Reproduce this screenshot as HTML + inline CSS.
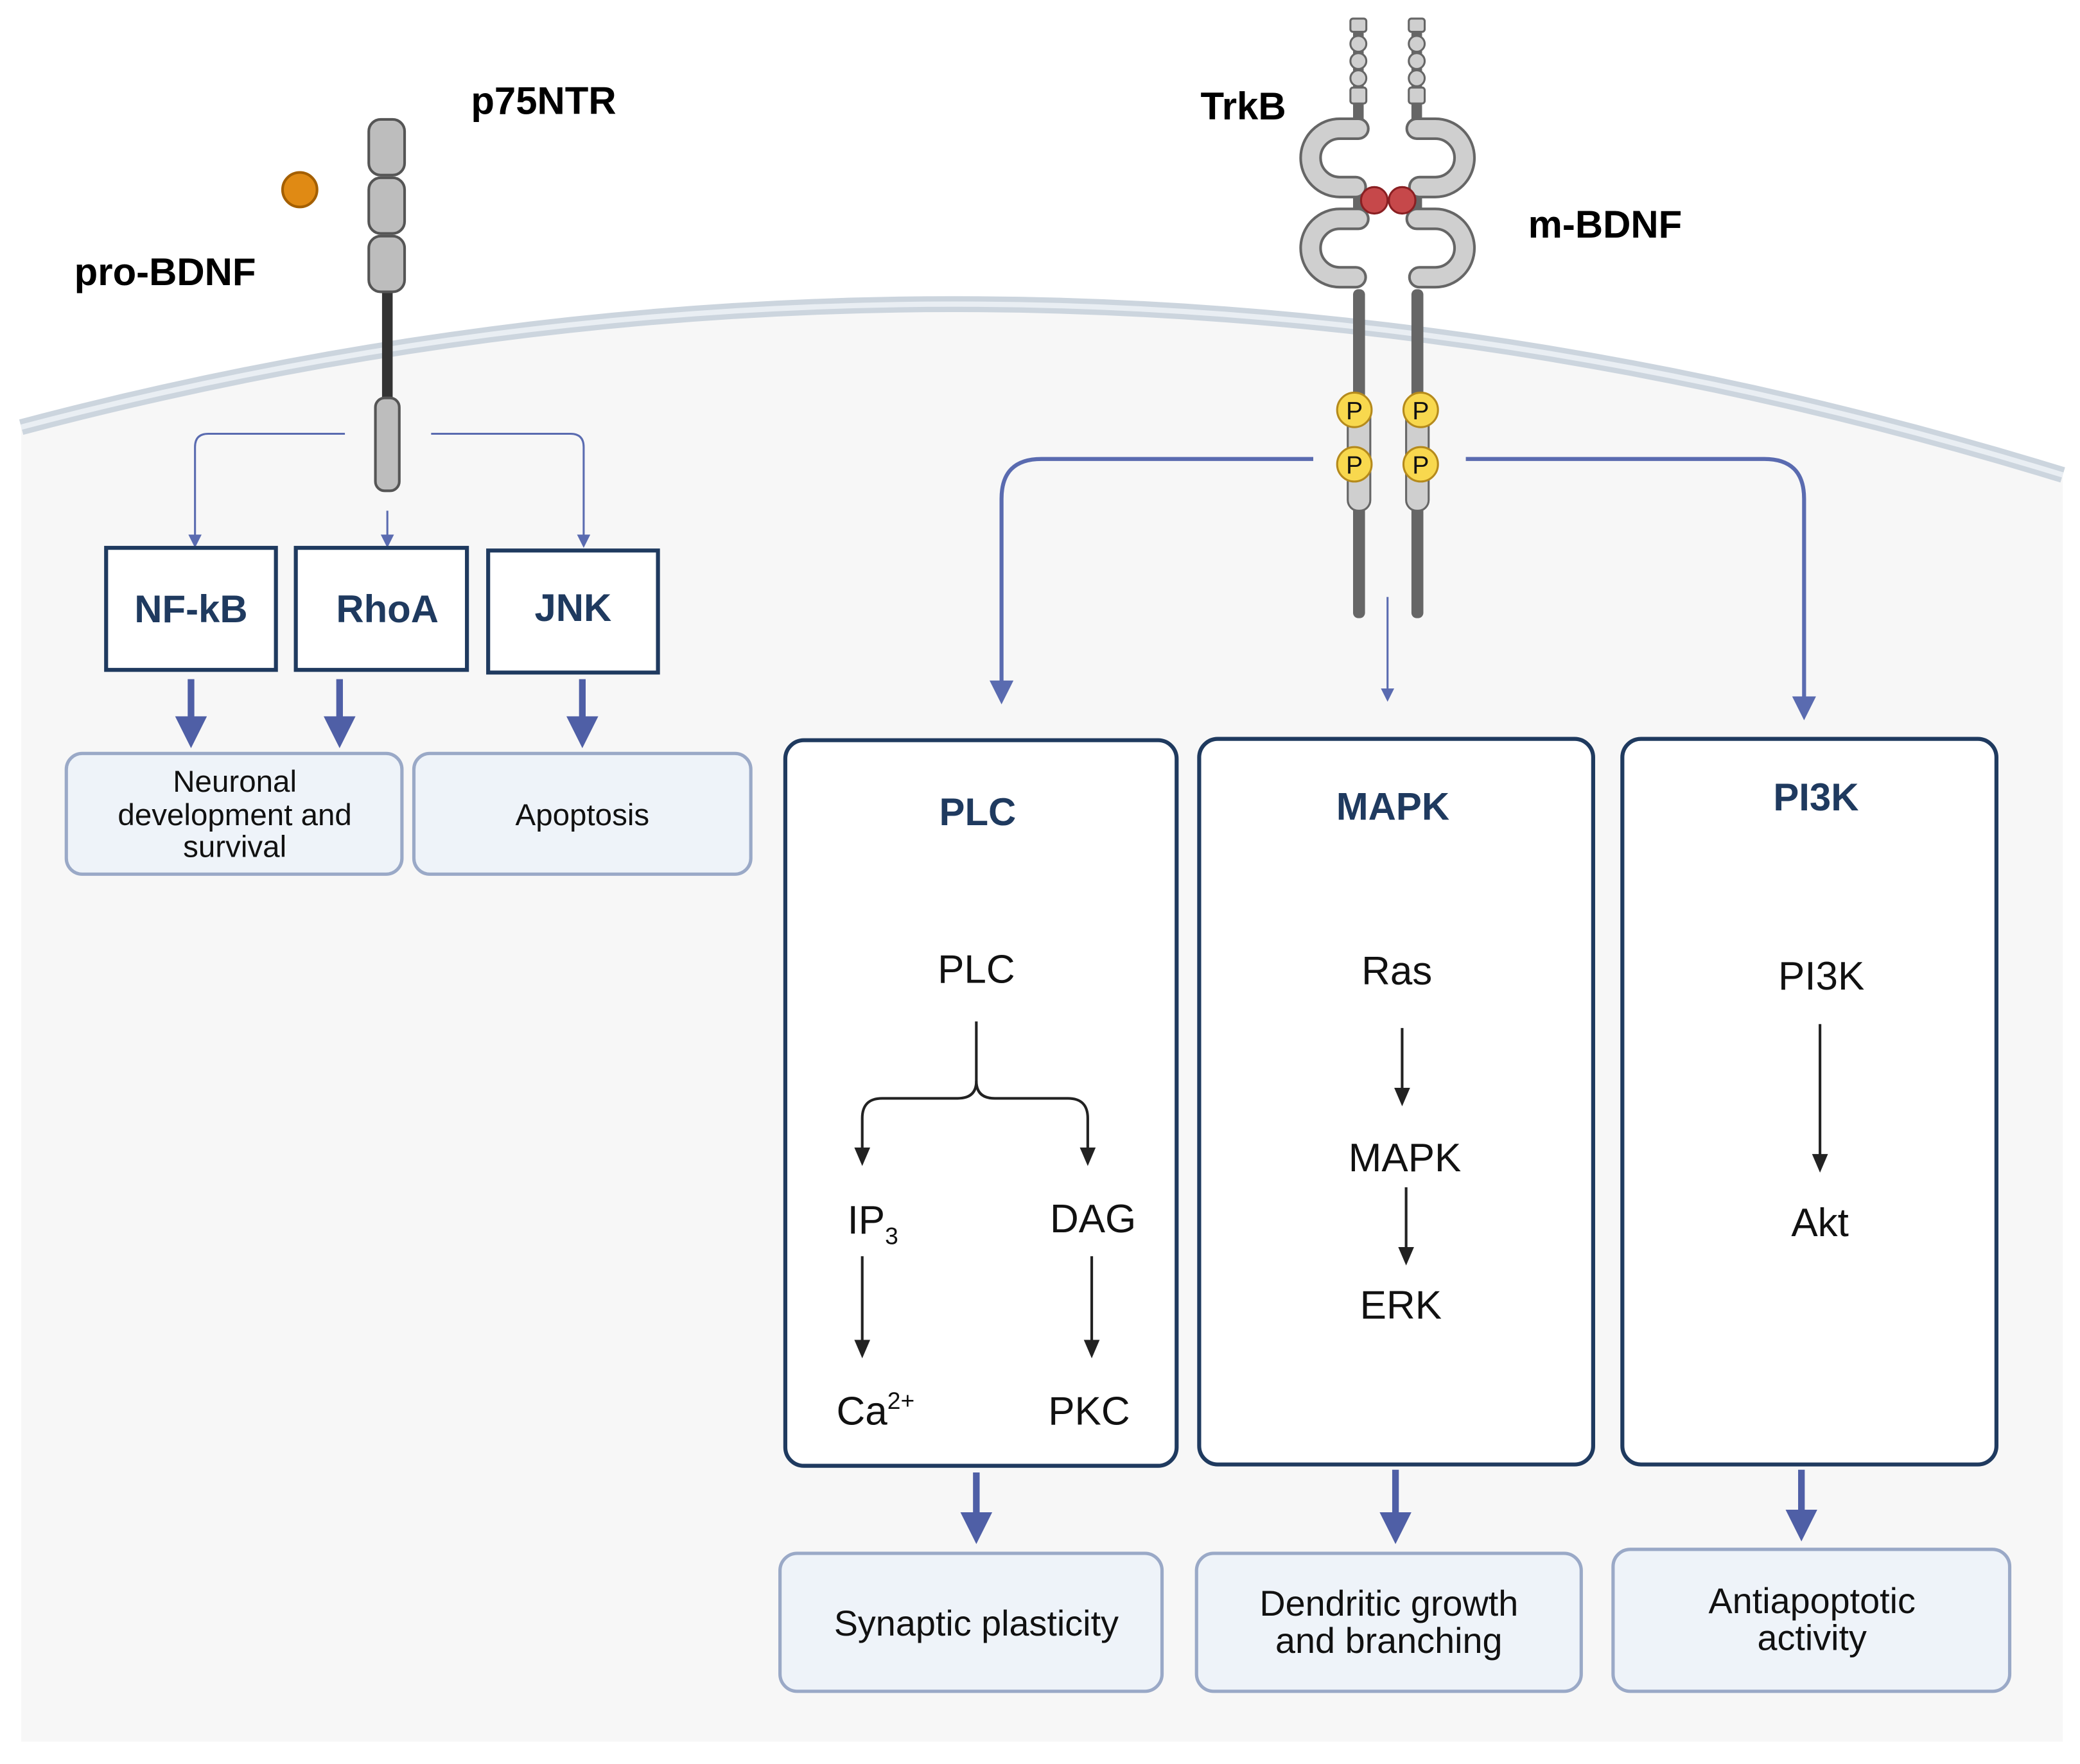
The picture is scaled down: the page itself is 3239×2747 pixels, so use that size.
<!DOCTYPE html>
<html><head><meta charset="utf-8"><style>
html,body{margin:0;padding:0;background:#fff}
svg{display:block}
text{font-family:"Liberation Sans",Arial,sans-serif}
</style></head><body>
<svg width="3239" height="2747" viewBox="0 0 1568 1329.8" xmlns="http://www.w3.org/2000/svg">
<defs>
<marker id="ab" markerWidth="10" markerHeight="10" refX="5" refY="5" orient="auto" markerUnits="userSpaceOnUse"><path d="M0,0 L10,5 L0,10 z" fill="#5a6bb0"/></marker>
<marker id="abk" markerWidth="14" markerHeight="14" refX="7" refY="7" orient="auto" markerUnits="userSpaceOnUse"><path d="M0,1 L14,7 L0,13 z" fill="#222"/></marker>
<marker id="abl" markerWidth="18" markerHeight="18" refX="9" refY="9" orient="auto" markerUnits="userSpaceOnUse"><path d="M0,0 L18,9 L0,18 z" fill="#5a6bb0"/></marker>
<marker id="abt" markerWidth="24" markerHeight="24" refX="12" refY="12" orient="auto" markerUnits="userSpaceOnUse"><path d="M0,0 L24,12 L0,24 z" fill="#4f5fa6"/></marker>
</defs>
<rect width="1568" height="1330" fill="#fff"/>
<!-- cell -->
<path d="M16,322 Q780,120 1555,358 V1313 H16 Z" fill="#f7f7f7"/>
<path d="M16,322 Q780,120 1555,358" fill="none" stroke="#ccd5de" stroke-width="12"/>
<path d="M16,322 Q780,120 1555,358" fill="none" stroke="#e9eef3" stroke-width="4"/>

<!-- p75NTR -->
<rect x="288" y="220" width="8" height="82" fill="#333"/>
<rect x="278" y="90" width="27" height="42" rx="9" fill="#bdbdbd" stroke="#555" stroke-width="2"/>
<rect x="278" y="134" width="27" height="42" rx="9" fill="#bdbdbd" stroke="#555" stroke-width="2"/>
<rect x="278" y="178" width="27" height="42" rx="9" fill="#bdbdbd" stroke="#555" stroke-width="2"/>
<rect x="283" y="300" width="18" height="70" rx="7" fill="#bdbdbd" stroke="#555" stroke-width="2"/>
<circle cx="226" cy="143" r="13" fill="#e08a14" stroke="#a45f00" stroke-width="2"/>
<text x="355" y="86" font-size="29" font-weight="bold">p75NTR</text>
<text x="56" y="215" font-size="29" font-weight="bold">pro-BDNF</text>

<g fill="none" stroke="#5a6bb0" stroke-width="1.5">
<path d="M260,327 H157 Q147,327 147,337 V408" marker-end="url(#ab)"/>
<path d="M325,327 H430 Q440,327 440,337 V408" marker-end="url(#ab)"/>
<path d="M292,385 V408" marker-end="url(#ab)"/>
</g>
<g fill="#fff" stroke="#1f3a5f" stroke-width="3">
<rect x="80" y="413" width="128" height="92"/>
<rect x="223" y="413" width="129" height="92"/>
<rect x="368" y="415" width="128" height="92"/>
</g>
<g font-size="29" font-weight="bold" fill="#1f3a5f" text-anchor="middle">
<text x="144" y="469">NF-kB</text>
<text x="292" y="469">RhoA</text>
<text x="432" y="468">JNK</text>
</g>
<g stroke="#4f5fa6" stroke-width="5" fill="none">
<path d="M144,512 V552" marker-end="url(#abt)"/>
<path d="M256,512 V552" marker-end="url(#abt)"/>
<path d="M439,512 V552" marker-end="url(#abt)"/>
</g>
<g fill="#eef3f9" stroke="#9aa9c7" stroke-width="2.5">
<rect x="50" y="568" width="253" height="91" rx="12"/>
<rect x="312" y="568" width="254" height="91" rx="12"/>
</g>
<g font-size="23" text-anchor="middle" fill="#111">
<text x="177" y="597">Neuronal</text>
<text x="177" y="622">development and</text>
<text x="177" y="646">survival</text>
<text x="439" y="622">Apoptosis</text>
</g>

<!-- TrkB -->
<g>
<rect x="1020" y="15" width="8" height="75" fill="#666"/>
<rect x="1064" y="15" width="8" height="75" fill="#666"/>
<g fill="#cfcfcf" stroke="#666" stroke-width="1.5">
<rect x="1018" y="14" width="12" height="10" rx="2"/><circle cx="1024" cy="33" r="6"/><circle cx="1024" cy="46" r="6"/><circle cx="1024" cy="59" r="6"/><rect x="1018" y="66" width="12" height="12" rx="2"/>
<rect x="1062" y="14" width="12" height="10" rx="2"/><circle cx="1068" cy="33" r="6"/><circle cx="1068" cy="46" r="6"/><circle cx="1068" cy="59" r="6"/><rect x="1062" y="66" width="12" height="12" rx="2"/>
</g>
<rect x="1020" y="140" width="8" height="25" fill="#666"/>
<rect x="1064" y="140" width="8" height="25" fill="#666"/>
<g fill="none" stroke-linecap="round">
<g stroke="#666" stroke-width="17">
<path d="M1024,97 H1010 A22,22 0 1 0 1010,141 H1022"/>
<path d="M1024,165 H1010 A22,22 0 1 0 1010,209 H1022"/>
<path d="M1068,97 H1082 A22,22 0 1 1 1082,141 H1070"/>
<path d="M1068,165 H1082 A22,22 0 1 1 1082,209 H1070"/>
</g>
<g stroke="#cfcfcf" stroke-width="13">
<path d="M1024,97 H1010 A22,22 0 1 0 1010,141 H1022"/>
<path d="M1024,165 H1010 A22,22 0 1 0 1010,209 H1022"/>
<path d="M1068,97 H1082 A22,22 0 1 1 1082,141 H1070"/>
<path d="M1068,165 H1082 A22,22 0 1 1 1082,209 H1070"/>
</g>
</g>
<circle cx="1036" cy="151" r="10" fill="#c6484a" stroke="#8a1f22" stroke-width="1.5"/>
<circle cx="1057" cy="151" r="10" fill="#c6484a" stroke="#8a1f22" stroke-width="1.5"/>
<rect x="1020" y="218" width="9" height="248" rx="4" fill="#666"/>
<rect x="1064" y="218" width="9" height="248" rx="4" fill="#666"/>
<rect x="1016" y="300" width="17" height="85" rx="8" fill="#cfcfcf" stroke="#666" stroke-width="1.5"/>
<rect x="1060" y="300" width="17" height="85" rx="8" fill="#cfcfcf" stroke="#666" stroke-width="1.5"/>
<g fill="#f8d84e" stroke="#b58a1c" stroke-width="1.5">
<circle cx="1021" cy="309" r="13"/><circle cx="1071" cy="309" r="13"/>
<circle cx="1021" cy="350" r="13"/><circle cx="1071" cy="350" r="13"/>
</g>
<g font-size="19" text-anchor="middle" fill="#111">
<text x="1021" y="316">P</text><text x="1071" y="316">P</text>
<text x="1021" y="357">P</text><text x="1071" y="357">P</text>
</g>
</g>
<text x="905" y="90" font-size="29" font-weight="bold">TrkB</text>
<text x="1152" y="179" font-size="29" font-weight="bold">m-BDNF</text>

<g fill="none" stroke="#5a6bb0" stroke-width="3">
<path d="M990,346 H785 Q755,346 755,376 V522" marker-end="url(#abl)"/>
<path d="M1105,346 H1330 Q1360,346 1360,376 V534" marker-end="url(#abl)"/>
</g>
<path d="M1046,450 V524" stroke="#5a6bb0" stroke-width="1.5" fill="none" marker-end="url(#ab)"/>

<g fill="#fff" stroke="#1f3a5f" stroke-width="3">
<rect x="592" y="558" width="295" height="547" rx="14"/>
<rect x="904" y="557" width="297" height="547" rx="14"/>
<rect x="1223" y="557" width="282" height="547" rx="14"/>
</g>
<g font-size="29" font-weight="bold" fill="#1f3a5f" text-anchor="middle">
<text x="737" y="622">PLC</text>
<text x="1050" y="618">MAPK</text>
<text x="1369" y="611">PI3K</text>
</g>
<g font-size="30" text-anchor="middle" fill="#111">
<text x="736" y="741">PLC</text>
<text x="658" y="930">IP<tspan font-size="18" dy="8">3</tspan></text>
<text x="824" y="929">DAG</text>
<text x="660" y="1074">Ca<tspan font-size="18" dy="-12">2+</tspan></text>
<text x="821" y="1074">PKC</text>
<text x="1053" y="742">Ras</text>
<text x="1059" y="883">MAPK</text>
<text x="1056" y="994">ERK</text>
<text x="1373" y="746">PI3K</text>
<text x="1372" y="932">Akt</text>
</g>
<g fill="none" stroke="#222" stroke-width="2">
<path d="M736,770 V815 Q736,828 722,828 H665 Q650,828 650,843 V872" marker-end="url(#abk)"/>
<path d="M736,815 Q736,828 750,828 H805 Q820,828 820,843 V872" marker-end="url(#abk)"/>
<path d="M650,947 V1017" marker-end="url(#abk)"/>
<path d="M823,947 V1017" marker-end="url(#abk)"/>
<path d="M1057,775 V827" marker-end="url(#abk)"/>
<path d="M1060,895 V947" marker-end="url(#abk)"/>
<path d="M1372,772 V877" marker-end="url(#abk)"/>
</g>
<g stroke="#4f5fa6" stroke-width="5" fill="none">
<path d="M736,1110 V1152" marker-end="url(#abt)"/>
<path d="M1052,1108 V1152" marker-end="url(#abt)"/>
<path d="M1358,1108 V1150" marker-end="url(#abt)"/>
</g>
<g fill="#eef3f9" stroke="#9aa9c7" stroke-width="2.5">
<rect x="588" y="1171" width="288" height="104" rx="13"/>
<rect x="902" y="1171" width="290" height="104" rx="13"/>
<rect x="1216" y="1168" width="299" height="107" rx="13"/>
</g>
<g font-size="27" text-anchor="middle" fill="#111">
<text x="736" y="1233">Synaptic plasticity</text>
<text x="1047" y="1218">Dendritic growth</text>
<text x="1047" y="1246">and branching</text>
<text x="1366" y="1216">Antiapoptotic</text>
<text x="1366" y="1244">activity</text>
</g>
</svg>
</body></html>
